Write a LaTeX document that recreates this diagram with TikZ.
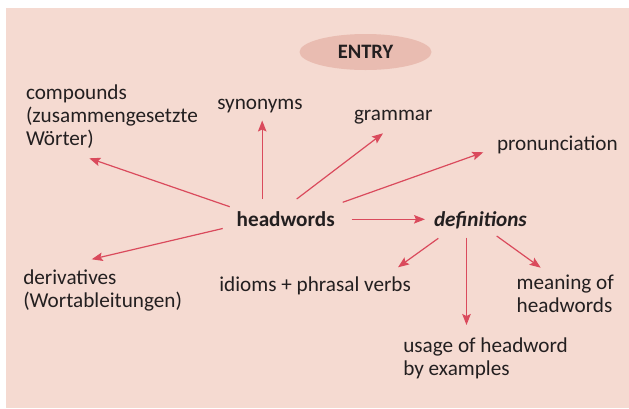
\documentclass[tikz,border=0pt]{standalone}
\usepackage{fontspec}
\setmainfont{Carlito}
\usetikzlibrary{arrows.meta,calc,shapes.geometric}
\definecolor{panel}{HTML}{F5DAD1}
\definecolor{entryfill}{HTML}{E9BCB1}
\definecolor{linkred}{HTML}{DA4A5C}
\definecolor{ink}{HTML}{231F20}
\begin{document}
\begin{tikzpicture}[x=1pt,y=-1pt,
  lbl/.style={inner sep=0pt, outer sep=0pt, text=ink, align=left,
    font=\fontsize{21.2}{23}\selectfont, anchor=base west},
  link/.style={draw=linkred, line width=1.2pt,
    -{Stealth[length=11pt,width=8.5pt,inset=2pt]}}]
\useasboundingbox (0,0) rectangle (629,408);
\fill[white] (0,0) rectangle (629,408);
\fill[panel] (6,8) rectangle (629,408);

% title
\node[ellipse, fill=entryfill, minimum width=132pt, minimum height=36pt,
  inner sep=0pt, text=ink, font=\fontsize{20.5}{23}\selectfont\bfseries]
  (entry) at (365.5,52) {ENTRY};

% labels (multi-line labels are placed by the baseline of their last line)
\node[lbl] (comp) at (26,145.7) {compounds\\(zusammengesetzte\\Wörter)};
\node[lbl] (syn) at (217.3,109) {synonyms};
\node[lbl] (gram) at (354,120.7) {grammar};
\node[lbl] (pron) at (497,150.7) {pronunciation};
\node[lbl, font=\fontsize{21.2}{23}\selectfont\bfseries] (hw) at (236.7,226) {headwords};
\node[lbl, font=\fontsize{21.2}{23}\selectfont\bfseries\itshape] (def) at (434,226) {definitions};
\node[lbl] (der) at (23.3,307) {derivatives\\(Wortableitungen)};
\node[lbl] (idi) at (219.3,291.7) {idioms + phrasal verbs};
\node[lbl] (mean) at (516.7,312.3) {meaning of\\headwords};
\node[lbl] (use) at (403.3,375) {usage of headword\\by examples};

% connectors from headwords
\draw[link] ($(hw.base west)+(-7,-19.3)$) -- ($(comp.base west)+(63.3,12.6)$);
\draw[link] ($(hw.base west)+(25.5,-27)$) -- ($(syn.base west)+(44.9,11.5)$);
\draw[link] ($(hw.base west)+(60,-27)$) -- ($(gram.base west)+(29,12.6)$);
\draw[link] ($(hw.base west)+(106,-23.7)$) -- ($(pron.base west)+(-13.7,1.6)$);
\draw[link] ($(hw.base west)+(115,-6.7)$) -- ($(def.base west)+(-9,-6.7)$);
\draw[link] ($(hw.base west)+(-14,2.5)$) -- ($(der.base west)+(68.4,-47.7)$);

% connectors from definitions
\draw[link] ($(def.base west)+(4.3,12.3)$) -- ($(idi.base west)+(178.7,-24.4)$);
\draw[link] ($(def.base west)+(32.5,11.5)$) -- ($(use.base west)+(63.2,-50)$);
\draw[link] ($(def.base west)+(62.7,10)$) -- ($(mean.base west)+(24,-44.6)$);
\end{tikzpicture}
\end{document}
